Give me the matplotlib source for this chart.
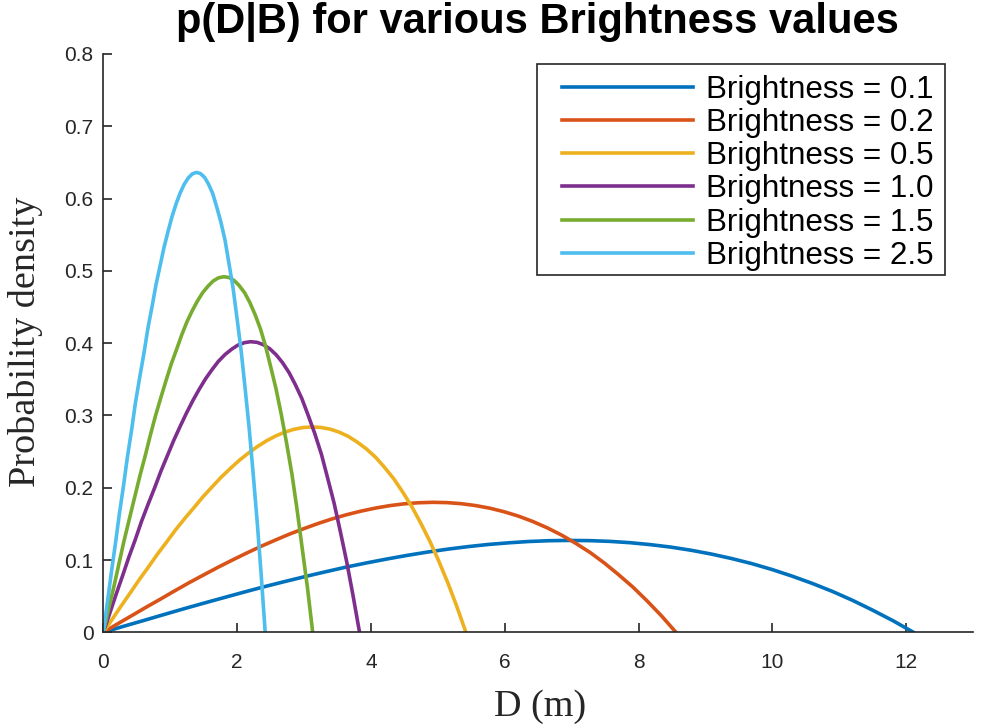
import matplotlib
matplotlib.use("Agg")
import matplotlib.pyplot as plt
from matplotlib.patches import Rectangle

# ---- data ----
labels = ["Brightness = 0.1", "Brightness = 0.2", "Brightness = 0.5",
          "Brightness = 1.0", "Brightness = 1.5", "Brightness = 2.5"]
colors = ["#0072BD", "#D95319", "#EDB120", "#7E2F8E", "#77AC30", "#4DBEEE"]

d_b01 = [0, 0.303, 0.61, 0.908, 1.21, 1.514, 1.82, 2.119, 2.42, 2.725, 3.03, 3.330,
         3.63, 3.936, 4.24, 4.541, 4.84, 5.147, 5.45, 5.752, 6.06, 6.358, 6.66, 6.963,
         7.27, 7.569, 7.87, 8.174, 8.48, 8.780, 9.08, 9.385, 9.69, 9.991, 10.29, 10.596,
         10.90, 11.202, 11.50, 11.807, 12.11]
p_b01 = [0, 0.0083, 0.0165, 0.0246, 0.0327, 0.0406, 0.0484, 0.0560, 0.0634, 0.0705,
         0.0774, 0.0839, 0.0902, 0.0960, 0.1014, 0.1064, 0.1109, 0.1150, 0.1185, 0.1215,
         0.1238, 0.1256, 0.1267, 0.1271, 0.1268, 0.1258, 0.1240, 0.1213, 0.1179, 0.1136,
         0.1084, 0.1022, 0.0951, 0.0870, 0.0779, 0.0677, 0.0565, 0.0441, 0.0306, 0.0159, 0]

d_b02 = [0, 0.214, 0.43, 0.642, 0.86, 1.070, 1.28, 1.498, 1.71, 1.926, 2.14, 2.354,
         2.57, 2.782, 3.00, 3.210, 3.42, 3.638, 3.85, 4.066, 4.28, 4.494, 4.71, 4.922,
         5.14, 5.350, 5.56, 5.778, 5.99, 6.206, 6.42, 6.634, 6.85, 7.062, 7.28, 7.490,
         7.70, 7.918, 8.13, 8.346, 8.56]
p_b02 = [0, 0.0117, 0.0233, 0.0348, 0.0462, 0.0575, 0.0685, 0.0793, 0.0897, 0.0998,
         0.1095, 0.1188, 0.1275, 0.1358, 0.1435, 0.1505, 0.1569, 0.1627, 0.1676, 0.1718,
         0.1752, 0.1777, 0.1792, 0.1798, 0.1794, 0.1779, 0.1754, 0.1717, 0.1668, 0.1607,
         0.1533, 0.1446, 0.1345, 0.1231, 0.1102, 0.0958, 0.0799, 0.0624, 0.0433, 0.0225, 0]

d_b05 = [0, 0.136, 0.27, 0.407, 0.54, 0.678, 0.81, 0.949, 1.08, 1.220, 1.36, 1.491,
         1.63, 1.762, 1.90, 2.033, 2.17, 2.304, 2.44, 2.575, 2.71, 2.846, 2.98, 3.117,
         3.25, 3.388, 3.52, 3.659, 3.79, 3.930, 4.07, 4.201, 4.34, 4.472, 4.61, 4.743,
         4.88, 5.014, 5.15, 5.285, 5.42]
p_b05 = [0, 0.0184, 0.0368, 0.0551, 0.0731, 0.0908, 0.1082, 0.1252, 0.1417, 0.1577,
         0.1730, 0.1876, 0.2015, 0.2146, 0.2267, 0.2379, 0.2480, 0.2570, 0.2649, 0.2715,
         0.2768, 0.2807, 0.2832, 0.2841, 0.2834, 0.2811, 0.2771, 0.2712, 0.2635, 0.2539,
         0.2422, 0.2285, 0.2126, 0.1945, 0.1741, 0.1514, 0.1262, 0.0986, 0.0684, 0.0355, 0]

d_b10 = [0, 0.096, 0.19, 0.287, 0.38, 0.479, 0.57, 0.670, 0.77, 0.862, 0.96, 1.053,
         1.15, 1.245, 1.34, 1.436, 1.53, 1.628, 1.72, 1.819, 1.92, 2.011, 2.11, 2.202,
         2.30, 2.394, 2.49, 2.585, 2.68, 2.777, 2.87, 2.968, 3.06, 3.160, 3.26, 3.351,
         3.45, 3.543, 3.64, 3.734, 3.83]
p_b10 = [0, 0.0261, 0.0521, 0.0779, 0.1034, 0.1285, 0.1531, 0.1772, 0.2005, 0.2231,
         0.2448, 0.2655, 0.2851, 0.3036, 0.3208, 0.3366, 0.3509, 0.3637, 0.3748, 0.3842,
         0.3917, 0.3972, 0.4007, 0.4020, 0.4011, 0.3978, 0.3921, 0.3838, 0.3729, 0.3592,
         0.3427, 0.3233, 0.3008, 0.2752, 0.2464, 0.2142, 0.1786, 0.1395, 0.0967, 0.0503, 0]

d_b15 = [0, 0.078, 0.16, 0.235, 0.31, 0.391, 0.47, 0.548, 0.63, 0.704, 0.78, 0.861,
         0.94, 1.017, 1.10, 1.174, 1.25, 1.330, 1.41, 1.487, 1.57, 1.643, 1.72, 1.800,
         1.88, 1.956, 2.03, 2.113, 2.19, 2.269, 2.35, 2.426, 2.50, 2.582, 2.66, 2.739,
         2.82, 2.895, 2.97, 3.052, 3.13]
p_b15 = [0, 0.0319, 0.0638, 0.0953, 0.1265, 0.1573, 0.1874, 0.2168, 0.2454, 0.2730,
         0.2995, 0.3249, 0.3489, 0.3715, 0.3925, 0.4119, 0.4294, 0.4450, 0.4587, 0.4701,
         0.4793, 0.4860, 0.4903, 0.4919, 0.4908, 0.4867, 0.4798, 0.4696, 0.4563, 0.4395,
         0.4194, 0.3956, 0.3681, 0.3367, 0.3015, 0.2621, 0.2186, 0.1707, 0.1184, 0.0615, 0]

d_b25 = [0, 0.061, 0.12, 0.182, 0.24, 0.303, 0.36, 0.424, 0.48, 0.545, 0.61, 0.666,
         0.73, 0.787, 0.85, 0.908, 0.97, 1.029, 1.09, 1.150, 1.21, 1.271, 1.33, 1.392,
         1.45, 1.513, 1.57, 1.634, 1.69, 1.755, 1.82, 1.876, 1.94, 1.997, 2.06, 2.118,
         2.18, 2.239, 2.30, 2.360, 2.42]
p_b25 = [0, 0.0413, 0.0825, 0.1233, 0.1636, 0.2034, 0.2423, 0.2804, 0.3173, 0.3531,
         0.3874, 0.4202, 0.4513, 0.4805, 0.5076, 0.5327, 0.5553, 0.5756, 0.5932, 0.6080,
         0.6199, 0.6286, 0.6341, 0.6362, 0.6347, 0.6295, 0.6205, 0.6074, 0.5901, 0.5685,
         0.5424, 0.5116, 0.4761, 0.4355, 0.3899, 0.3390, 0.2827, 0.2207, 0.1531, 0.0796, 0]

xs = [d_b01, d_b02, d_b05, d_b10, d_b15, d_b25]
ys = [p_b01, p_b02, p_b05, p_b10, p_b15, p_b25]

x_ticks = [0, 2, 4, 6, 8, 10, 12]
y_ticks = [0, 0.1, 0.2, 0.3, 0.4, 0.5, 0.6, 0.7, 0.8]
y_ticklabels = ["0", "0.1", "0.2", "0.3", "0.4", "0.5", "0.6", "0.7", "0.8"]

title = "p(D|B) for various Brightness values"
xlabel = "D (m)"
ylabel = "Probability density"

# ---- figure ----
W, H = 989, 727
fig = plt.figure(figsize=(W / 100, H / 100), dpi=100)
ax = fig.add_axes([103.3 / W, 1 - 632.3 / H, (973 - 103.3) / W, (632.3 - 54) / H])

handles = []
for x, y, c, lab in zip(xs, ys, colors, labels):
    h, = ax.plot(x, y, color=c, lw=2.6, label=lab, solid_joinstyle="round")
    handles.append(h)

ax.set_xlim(0, 13)
ax.set_ylim(0, 0.8)
ax.set_xticks(x_ticks)
ax.set_xticklabels([str(v) for v in x_ticks])
ax.set_yticks(y_ticks)
ax.set_yticklabels(y_ticklabels)

axc = "#262626"
for s in ["top", "right"]:
    ax.spines[s].set_visible(False)
for s in ["left", "bottom"]:
    ax.spines[s].set_color(axc)
    ax.spines[s].set_linewidth(1.2)

ax.tick_params(axis="both", direction="in", length=6.5, width=1.2, color=axc,
               labelcolor=axc)
ax.tick_params(axis="x", pad=15)
ax.tick_params(axis="y", pad=7)
for lbl in ax.get_xticklabels() + ax.get_yticklabels():
    lbl.set_fontfamily("Liberation Sans")
    lbl.set_fontsize(15)

fig.text(537.5 / W, 1 - 33 / H, title, ha="center", va="baseline",
         fontfamily="Liberation Sans", fontweight="bold", fontsize=30, color="black")
fig.text(26 / W, 1 - 341.5 / H, ylabel, rotation=90, ha="center", va="center",
         fontfamily="Liberation Serif", fontsize=27.5, color=axc)
fig.text(540 / W, 1 - 706.5 / H, xlabel, ha="center", va="center",
         fontfamily="Liberation Serif", fontsize=27.5, color=axc)

# legend
leg = fig.legend(handles=handles, labels=labels, loc="upper left",
                 bbox_to_anchor=(562 / W, 1 - 75 / H), frameon=False,
                 borderpad=0, borderaxespad=0, handlelength=4.17, handletextpad=0.41,
                 labelspacing=0.1,
                 prop={"family": "Liberation Sans", "size": 22.6})
for t in leg.get_texts():
    t.set_color("black")
fig.add_artist(Rectangle((537 / W, 1 - 275 / H), (945 - 537) / W, (275 - 64) / H,
                         transform=fig.transFigure, fill=True, facecolor="white",
                         edgecolor=axc, lw=1.2, zorder=2))
leg.set_zorder(3)

fig.savefig("out.png", dpi=100)
